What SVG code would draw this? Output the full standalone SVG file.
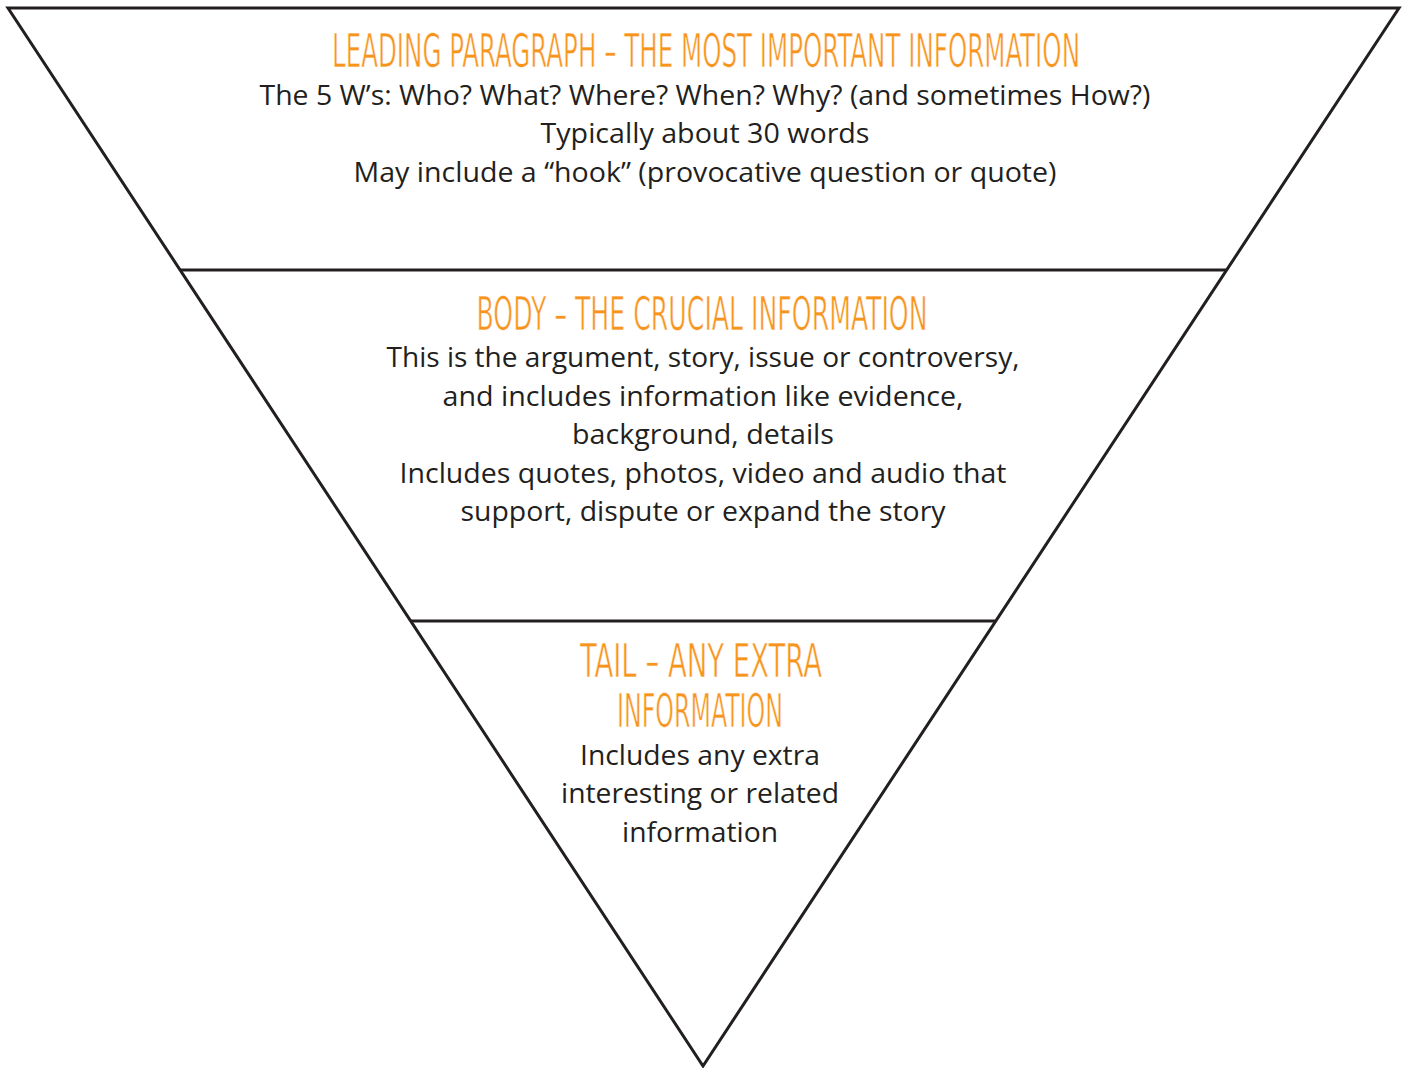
<svg xmlns="http://www.w3.org/2000/svg" width="1407" height="1068" viewBox="0 0 1407 1068">
<style>
.edge{stroke:#231f20;stroke-width:3;fill:none;stroke-linejoin:miter}
.head{font-family:"Liberation Sans Narrow","DejaVu Sans Condensed",sans-serif;font-size:47px;fill:#f7941d;stroke:#ffffff;stroke-width:0.7px;text-anchor:middle}
.body{font-family:"Open Sans","Noto Sans",sans-serif;font-size:27px;fill:#231f20;text-anchor:middle}
</style>
<rect width="1407" height="1068" fill="#ffffff"/>
<g id="connectors">
<polygon class="edge" points="8,8 1399,8 703,1066"/>
<line class="edge" x1="180" y1="270" x2="1227" y2="270"/>
<line class="edge" x1="411" y1="621" x2="995" y2="621"/>
</g>
<g id="leading">
<text class="head" x="706" y="67" textLength="748" lengthAdjust="spacingAndGlyphs">LEADING PARAGRAPH – THE MOST IMPORTANT INFORMATION</text>
<text class="body" x="705" y="105" textLength="891" lengthAdjust="spacingAndGlyphs">The 5 W’s: Who? What? Where? When? Why? (and sometimes How?)</text>
<text class="body" x="705" y="143" textLength="329" lengthAdjust="spacingAndGlyphs">Typically about 30 words</text>
<text class="body" x="705" y="182" textLength="703" lengthAdjust="spacingAndGlyphs">May include a “hook” (provocative question or quote)</text>
</g>
<g id="body">
<text class="head" x="702" y="330" textLength="451" lengthAdjust="spacingAndGlyphs">BODY – THE CRUCIAL INFORMATION</text>
<text class="body" x="703" y="367" textLength="633" lengthAdjust="spacingAndGlyphs">This is the argument, story, issue or controversy,</text>
<text class="body" x="703" y="406" textLength="521" lengthAdjust="spacingAndGlyphs">and includes information like evidence,</text>
<text class="body" x="703" y="444" textLength="262" lengthAdjust="spacingAndGlyphs">background, details</text>
<text class="body" x="703" y="483" textLength="607" lengthAdjust="spacingAndGlyphs">Includes quotes, photos, video and audio that</text>
<text class="body" x="703" y="521" textLength="485" lengthAdjust="spacingAndGlyphs">support, dispute or expand the story</text>
</g>
<g id="tail">
<text class="head" x="701" y="677" textLength="242" lengthAdjust="spacingAndGlyphs">TAIL – ANY EXTRA</text>
<text class="head" x="700" y="727" textLength="166" lengthAdjust="spacingAndGlyphs">INFORMATION</text>
<text class="body" x="700" y="765" textLength="240" lengthAdjust="spacingAndGlyphs">Includes any extra</text>
<text class="body" x="700" y="803" textLength="278" lengthAdjust="spacingAndGlyphs">interesting or related</text>
<text class="body" x="700" y="842" textLength="156" lengthAdjust="spacingAndGlyphs">information</text>
</g>
</svg>
